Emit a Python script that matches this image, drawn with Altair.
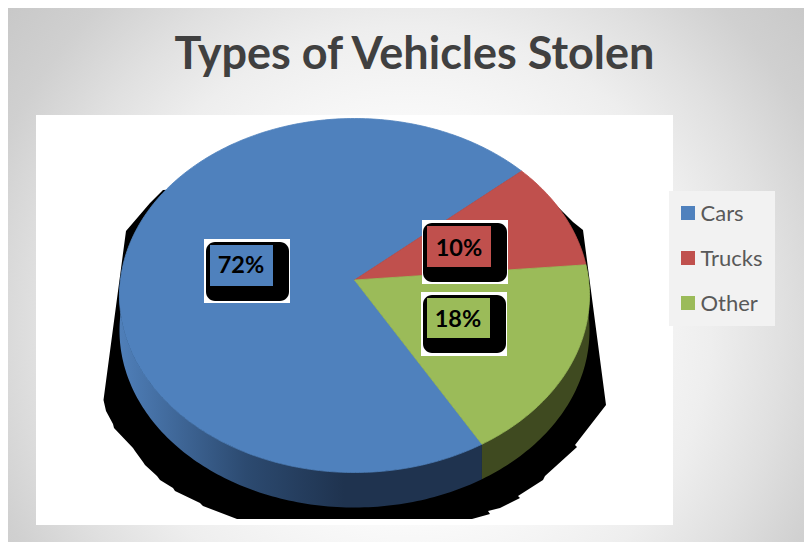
import math
import altair as alt
import pandas as pd

title_text = "Types of Vehicles Stolen"
categories = ["Cars", "Trucks", "Other"]
values = [72, 10, 18]
labels = ["72%", "10%", "18%"]
colors = ["#4f81bd", "#c0504d", "#9bbb59"]
side_green = "#3f4a20"

# Picture geometry, in page pixels
PAGE_R, PAGE_B = 804, 542
CX, CY, RX, RY = 354.5, 295.5, 235.0, 177.0
APEX_Y = 280.0
DEPTH = 35.0
SQUASH = 0.75
TRUCKS_START = 41.0  # degrees, counter-clockwise from east

shadow_x = [163, 150, 126, 103.5, 106, 113, 114, 133, 135, 143, 145, 157, 160, 173, 175, 200, 203, 237,
            472, 490, 488, 500, 520, 518, 543, 545, 577, 575, 606, 583, 573, 550, 520]
shadow_y = [190, 203, 231, 400, 411, 424, 428, 448, 451, 462, 465, 476, 480, 488, 491, 503, 506, 519,
            519, 514, 511, 508, 498, 496, 480, 476, 447, 445, 405, 230, 222, 199, 172]

box_white = [(204, 290, 239, 303), (422, 508, 220, 284), (421, 507, 292, 356)]
box_black = [(206, 289, 242, 301), (423, 507, 223, 282), (423, 506, 295, 353)]
box_color = [(210, 273, 245, 286), (427, 491, 226, 267), (427, 490, 298, 338)]
label_pos = [(241, 266), (459, 249), (458, 320)]
legend_y = [213, 258, 303]

X = alt.X("x:Q", scale=alt.Scale(domain=[8, PAGE_R], nice=False, zero=False), axis=None)
Y = alt.Y("y:Q", scale=alt.Scale(domain=[PAGE_B, 8], nice=False, zero=False), axis=None)


def rim(phi):
    """Where a ray leaving the apex at angle phi meets the top ellipse."""
    a = math.radians(phi)
    dx, dy = math.cos(a), -SQUASH * math.sin(a)
    off = APEX_Y - CY
    A = (dx / RX) ** 2 + (dy / RY) ** 2
    B = 2 * off * dy / RY ** 2
    C = (off / RY) ** 2 - 1
    t = (-B + math.sqrt(B * B - 4 * A * C)) / (2 * A)
    return CX + t * dx, APEX_Y + t * dy


def shape(points, fill, stroke=None):
    df = pd.DataFrame(points, columns=["x", "y"])
    df["i"] = range(len(df))
    kw = {"stroke": stroke, "strokeWidth": 0.8} if stroke else {"stroke": None}
    return alt.Chart(df).mark_line(
        interpolate="linear-closed", fill=fill, clip=False, **kw
    ).encode(x=X, y=Y, order="i:Q")


def box(bounds, **kw):
    x0, x1, y0, y1 = bounds
    df = pd.DataFrame({"x": [x0], "x2": [x1], "y": [y0], "y2": [y1]})
    return alt.Chart(df).mark_rect(**kw).encode(x=X, x2="x2:Q", y=Y, y2="y2:Q")


def text(s, x, y, **kw):
    df = pd.DataFrame({"x": [x], "y": [y], "t": [s]})
    return alt.Chart(df).mark_text(**kw).encode(x=X, y=Y, text="t:N")


# Sector angles come from the values
ang = {}
start = TRUCKS_START
for name, v in zip(categories[1:], values[1:]):
    ang[name] = (start, start - v * 3.6)
    start -= v * 3.6
ang["Cars"] = (start, start - values[0] * 3.6)


def sector(phi0, phi1):
    n = max(2, int(abs(phi1 - phi0)))
    pts = [(CX, APEX_Y)]
    for k in range(n + 1):
        pts.append(rim(phi0 + (phi1 - phi0) * k / n))
    return pts


def wall(phi0, phi1):
    n = max(2, int(abs(phi1 - phi0)))
    top = [rim(phi0 + (phi1 - phi0) * k / n) for k in range(n + 1)]
    return top + [(x, y + DEPTH) for x, y in reversed(top)]


background = box((8, PAGE_R, 8, PAGE_B), fill=alt.RadialGradient(
    gradient="radial", x1=0.505, y1=0.565, r1=0, x2=0.505, y2=0.565, r2=0.7,
    stops=[alt.GradientStop(offset=0, color="#ffffff"),
           alt.GradientStop(offset=0.3, color="#fdfdfd"),
           alt.GradientStop(offset=0.54, color="#eeeeee"),
           alt.GradientStop(offset=0.67, color="#e0e0e0"),
           alt.GradientStop(offset=0.8, color="#d0d0d0"),
           alt.GradientStop(offset=1, color="#c3c3c3")],
))

layers = [background, box((36, 673, 115, 525), fill="#ffffff")]
layers.append(shape(list(zip(shadow_x, shadow_y)), "#000000"))

blue_side = alt.Gradient(
    gradient="linear", x1=0, y1=0, x2=1, y2=0,
    stops=[alt.GradientStop(offset=0, color="#4f7fb9"),
           alt.GradientStop(offset=0.35, color="#2c4a70"),
           alt.GradientStop(offset=0.62, color="#1f334f"),
           alt.GradientStop(offset=1, color="#1f334f")],
)
layers.append(shape(wall(ang["Cars"][0], -180), blue_side))
layers.append(shape(wall(ang["Other"][0], ang["Other"][1]), side_green))

for name, col in zip(categories, colors):
    layers.append(shape(sector(*ang[name]), col, stroke=col))

for i, name in enumerate(categories):
    layers.append(box(box_white[i], fill="#ffffff"))
    layers.append(box(box_black[i], fill="#000000", cornerRadius=9))
    layers.append(box(box_color[i], fill=colors[i]))
    layers.append(text(labels[i], *label_pos[i], font="Lato", fontSize=23.5, fontWeight="bold",
                       color="#000000", align="center", baseline="middle"))

layers.append(text(title_text, 414.5, 55, font="Lato", fontSize=45, fontWeight="bold",
                   color="#404040", align="center", baseline="middle"))

layers.append(box((669, 775, 191, 326), fill="#f2f2f2"))
for name, col, yy in zip(categories, colors, legend_y):
    layers.append(box((681, 695, yy - 7, yy + 7), fill=col))
    layers.append(text(name, 700.5, yy + 1, font="Lato", fontSize=22, color="#595959",
                       align="left", baseline="middle"))

chart = alt.layer(*layers).properties(
    width=PAGE_R - 8, height=PAGE_B - 8, padding=0, background="#ffffff",
    autosize=alt.AutoSizeParams(type="none"),
).configure_view(stroke=None)

chart.save("out.html", embed_options={"renderer": "svg", "actions": False})
